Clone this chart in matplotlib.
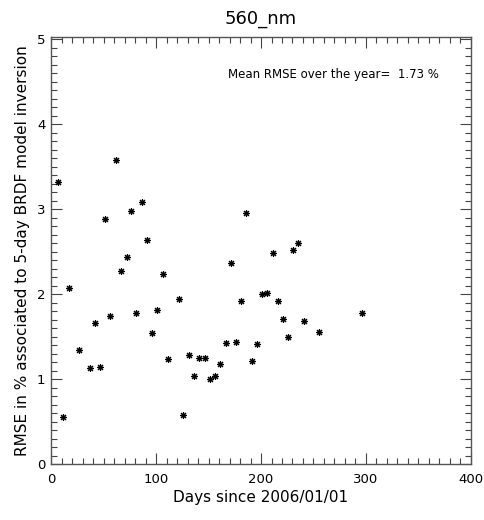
import numpy as np
import matplotlib
matplotlib.use('Agg')
import matplotlib.pyplot as plt
from matplotlib.ticker import MultipleLocator

# 5-day inversion dates (days since 2006/01/01) and RMSE in %
days = [6.9, 11.7, 16.8, 26.3, 36.8, 41.8, 46.9, 51.6, 56.4, 61.8,
        66.5, 71.9, 76.0, 81.4, 86.5, 91.6, 96.6, 101.4, 106.5, 111.5,
        121.7, 126.1, 131.2, 136.2, 141.3, 146.4, 151.1, 156.2, 161.0, 166.3,
        171.1, 175.9, 180.9, 186.0, 191.1, 196.5, 200.6, 206.0, 211.0, 216.4,
        221.2, 226.0, 230.7, 235.7, 241.2, 255.7, 295.9]
rmse = [3.32, 0.56, 2.07, 1.35, 1.13, 1.66, 1.15, 2.89, 1.74, 3.58,
        2.27, 2.44, 2.98, 1.78, 3.09, 2.64, 1.55, 1.82, 2.24, 1.24,
        1.94, 0.58, 1.29, 1.04, 1.25, 1.25, 1.00, 1.04, 1.18, 1.43,
        2.37, 1.44, 1.92, 2.96, 1.21, 1.41, 2.00, 2.01, 2.49, 1.92,
        1.71, 1.50, 2.52, 2.60, 1.68, 1.56, 1.78]

band = '560_nm'
mean_rmse = 1.73

fig = plt.figure(figsize=(4.85, 5.2), dpi=100)
ax = fig.add_axes([0.1052, 0.1071, 0.8659, 0.8223])

# IDL style asterisk markers
ax.plot(days, rmse, linestyle='none', marker=(8, 2, 0), markersize=5,
        markeredgewidth=0.8, color='black')

ax.set_xlim(0, 400)
ax.set_ylim(0, 5.03)
ax.xaxis.set_major_locator(MultipleLocator(100))
ax.xaxis.set_minor_locator(MultipleLocator(10))
ax.yaxis.set_major_locator(MultipleLocator(1))
ax.yaxis.set_minor_locator(MultipleLocator(0.1))
ax.tick_params(which='both', direction='in', top=True, right=True,
               color='#444444', width=0.8, labelsize=9.5)
ax.tick_params(which='major', length=8)
ax.tick_params(which='minor', length=4)
ax.tick_params(axis='x', which='major', pad=6)
ax.tick_params(axis='y', which='major', pad=4)
for s in ax.spines.values():
    s.set_color('#555555')
    s.set_linewidth(1.0)

ax.set_title(band, fontsize=13, pad=9)
ax.set_xlabel('Days since 2006/01/01', fontsize=11, labelpad=3)
ax.set_ylabel('RMSE in % associated to 5-day BRDF model inversion',
              fontsize=11, labelpad=5)
ax.text(169, 4.58, 'Mean RMSE over the year=  %.2f %%' % mean_rmse,
        ha='left', va='center', fontsize=8.5)

fig.savefig('out.png', dpi=100)
